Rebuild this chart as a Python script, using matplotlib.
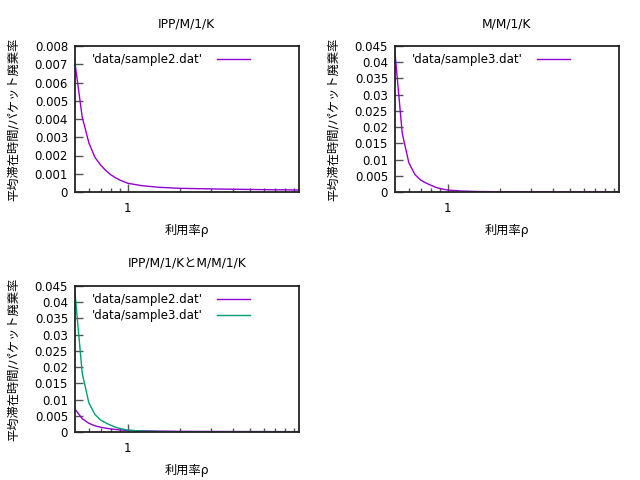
import matplotlib
matplotlib.use("Agg")
import matplotlib.pyplot as plt
from matplotlib.ticker import FixedLocator, FuncFormatter, NullFormatter

plt.rcParams['font.family'] = ['DejaVu Sans', 'Noto Sans CJK JP']
plt.rcParams['font.size'] = 8.5

# utilisation rho
rho = [0.5, 0.55, 0.6, 0.65, 0.7, 0.75, 0.8, 0.85, 0.9, 1.0, 1.2, 1.5,
       2, 3, 4, 5, 6, 7, 8, 9, 9.5]
# data/sample2.dat  (IPP/M/1/K)
sample2 = [0.00705, 0.0041, 0.0027, 0.0019, 0.00148, 0.00118, 0.00095,
           0.00079, 0.00066, 0.00048, 0.00035, 0.00026, 0.0002, 0.00017,
           0.00015, 0.00014, 0.00013, 0.00012, 0.00012, 0.00011, 0.00011]
# data/sample3.dat  (M/M/1/K)
sample3 = [0.0428, 0.0181, 0.0090, 0.0054, 0.0037, 0.0028, 0.0021,
           0.0015, 0.0011, 0.0006, 0.0003, 0.00015, 0.00008, 0.00003,
           0.00002, 0.00001, 0.00001, 0.00001, 0.00001, 0.00001, 0.00001]

titles = ['IPP/M/1/K', 'M/M/1/K', 'IPP/M/1/KとM/M/1/K']
xlabel = '利用率ρ'
ylabel = '平均滞在時間/パケット廃棄率'
label2 = "'data/sample2.dat'"
label3 = "'data/sample3.dat'"
yticks_small = [0, 0.001, 0.002, 0.003, 0.004, 0.005, 0.006, 0.007, 0.008]
yticks_big = [0, 0.005, 0.01, 0.015, 0.02, 0.025, 0.03, 0.035, 0.04, 0.045]
xmajor = [1]
xminor = [0.6, 0.7, 0.8, 0.9, 2, 3, 4, 5, 6, 7, 8, 9]

c1 = '#9400d3'
c2 = '#009e73'

fig = plt.figure(figsize=(6.4, 4.8), dpi=100)
W, H = 640, 480


def make_ax(left, top, right, bottom):
    return fig.add_axes([left / W, 1 - bottom / H, (right - left) / W, (bottom - top) / H])


axes = [make_ax(75, 46, 298.5, 192), make_ax(395, 46, 618.5, 192), make_ax(75, 286, 298.5, 432)]

axes[0].plot(rho, sample2, color=c1, lw=1.0, label=label2)
axes[1].plot(rho, sample3, color=c1, lw=1.0, label=label3)
axes[2].plot(rho, sample2, color=c1, lw=1.0, label=label2)
axes[2].plot(rho, sample3, color=c2, lw=1.0, label=label3)

fmt = FuncFormatter(lambda v, p: '%g' % v)
for i, ax in enumerate(axes):
    ax.set_xscale('log')
    ax.set_xlim(0.5, 9.5)
    ax.xaxis.set_major_locator(FixedLocator(xmajor))
    ax.xaxis.set_minor_locator(FixedLocator(xminor))
    ax.xaxis.set_major_formatter(FuncFormatter(lambda v, p: '%g' % v))
    ax.xaxis.set_minor_formatter(NullFormatter())
    if i == 0:
        ax.set_ylim(0, 0.008)
        ax.set_yticks(yticks_small)
    else:
        ax.set_ylim(0, 0.045)
        ax.set_yticks(yticks_big)
    ax.yaxis.set_major_formatter(fmt)
    ax.tick_params(axis='both', which='both', direction='in', color='#555555',
                   top=False, right=False, labelsize=8.5)
    ax.tick_params(axis='x', which='major', length=6, width=1.0, pad=7.5)
    ax.tick_params(axis='x', which='minor', length=3, width=1.0)
    ax.tick_params(axis='y', which='major', length=6, width=1.0, pad=5)
    for s in ax.spines.values():
        s.set_color('#222222')
        s.set_linewidth(1.3)
    ax.set_title(titles[i], fontsize=8.8, pad=13)
    ax.set_xlabel(xlabel, fontsize=8.8)
    ax.xaxis.set_label_coords(0.5, -0.215)
    ax.set_ylabel(ylabel, fontsize=8.8)
    ax.yaxis.set_label_coords(-0.245, 0.5)
    ax.legend(loc='upper left', bbox_to_anchor=(0.075, 0.95), frameon=False,
              markerfirst=False, handlelength=2.8, handletextpad=1.2,
              borderpad=0.0, borderaxespad=0.0, labelspacing=0.25, fontsize=8.5)

fig.savefig('out.png', dpi=100)
